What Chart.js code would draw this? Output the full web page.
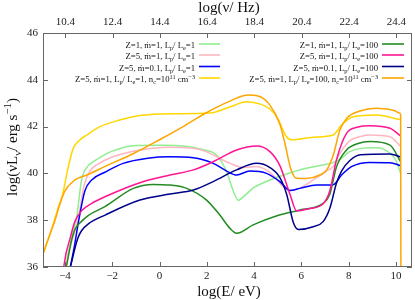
<!DOCTYPE html>
<html>
<head>
<meta charset="utf-8">
<script src="https://cdn.jsdelivr.net/npm/chart.js@4.4.1/dist/chart.umd.min.js"></script>
<style>
  html, body { margin: 0; padding: 0; background: #fff; }
</style>
</head>
<body>
<canvas id="sed" width="415" height="300"></canvas>
<script>
// log(E/eV) and log(nu L_nu), one pair of arrays per model
const eLG = [-4.05, -3.8, -3.5, -3.3, -3.08, -2.8, -2.4, -2.0, -1.11, 0.0, 1.2, 1.9, 2.41, 2.84, 3.1, 3.33, 3.6, 4.0, 4.67, 5.5, 5.94, 6.7, 7.3, 7.63, 8.05, 8.6, 9.2, 9.75, 10.0, 10.2];
const lLG = [35.6, 36.9, 38.15, 39.72, 40.25, 40.5, 40.75, 40.95, 41.18, 41.2, 41.15, 41.0, 40.79, 40.07, 39.3, 38.85, 39.05, 39.4, 39.72, 40.02, 40.15, 40.32, 40.45, 40.6, 40.93, 41.08, 41.1, 40.86, 40.55, 40.0];

const eLP = [-4.05, -3.8, -3.45, -3.2, -2.95, -2.6, -2.0, -1.3, -0.5, 0.3, 1.42, 2.0, 2.41, 2.98, 3.54, 4.1, 4.8, 5.2, 5.52, 5.94, 6.5, 7.07, 7.35, 7.63, 8.1, 8.5, 8.9, 9.75, 10.2];
const lLP = [35.6, 36.8, 38.0, 39.45, 40.1, 40.4, 40.7, 40.9, 41.05, 41.12, 41.07, 40.92, 40.71, 40.43, 40.25, 40.29, 39.93, 39.45, 39.28, 39.38, 39.72, 40.1, 40.3, 40.86, 41.43, 41.58, 41.64, 41.57, 41.15];

const eB = [-3.85, -3.6, -3.44, -3.16, -2.87, -2.31, -1.54, -0.5, 0.44, 1.43, 2.27, 2.84, 3.26, 3.82, 4.53, 5.09, 5.52, 5.94, 6.64, 7.35, 7.7, 8.12, 8.9, 9.75, 10.2];
const lB = [35.6, 36.9, 37.87, 39.25, 39.72, 40.05, 40.43, 40.65, 40.71, 40.67, 40.43, 40.1, 39.93, 40.1, 40.0, 39.65, 39.27, 39.36, 39.5, 39.52, 39.93, 40.29, 40.47, 40.46, 40.33];

const eY = [-4.95, -4.55, -4.3, -4.1, -3.9, -3.65, -3.37, -3.08, -2.52, -1.68, -0.83, 0.44, 2.13, 3.0, 3.68, 4.3, 4.67, 5.0, 5.35, 5.59, 6.5, 7.34, 7.7, 8.19, 9.18, 10.17];
const lY = [36.5, 37.65, 38.5, 39.1, 40.1, 41.07, 41.43, 41.64, 42.0, 42.28, 42.47, 42.55, 42.58, 42.85, 43.06, 42.95, 42.75, 42.35, 41.6, 41.43, 41.55, 41.64, 42.07, 42.42, 42.5, 42.3];

const eG = [-4.0, -3.85, -3.72, -3.58, -3.3, -3.02, -2.31, -1.11, -0.27, 0.44, 1.15, 1.99, 2.55, 2.98, 3.26, 3.96, 5.0, 5.94, 6.92, 7.2, 7.49, 7.91, 8.4, 8.9, 9.75, 10.2];
const lG = [35.7, 36.5, 37.15, 37.6, 37.95, 38.2, 38.58, 39.36, 39.53, 39.5, 39.36, 38.86, 38.22, 37.65, 37.44, 37.8, 38.2, 38.44, 38.72, 39.1, 40.29, 41.0, 41.28, 41.36, 41.21, 40.5];

const eHP = [-4.1, -3.95, -3.79, -3.58, -3.3, -2.87, -2.31, -0.83, 0.44, 1.43, 2.27, 3.26, 4.1, 4.67, 5.09, 5.52, 5.8, 6.36, 6.92, 7.2, 7.49, 7.91, 8.4, 8.9, 9.75, 10.2];
const lHP = [35.7, 36.6, 37.2, 37.95, 38.4, 38.72, 39.0, 39.6, 39.93, 40.15, 40.5, 41.0, 41.17, 40.93, 40.33, 39.1, 38.4, 38.5, 38.7, 39.25, 40.6, 41.71, 41.98, 42.04, 41.93, 41.6];

const eN = [-3.85, -3.7, -3.58, -3.45, -3.3, -3.0, -2.3, -0.83, 0.44, 1.43, 2.27, 3.26, 4.1, 4.67, 5.09, 5.38, 5.66, 5.87, 6.5, 6.92, 7.2, 7.49, 7.7, 8.05, 8.5, 9.75, 10.2];
const lN = [35.7, 36.3, 36.8, 37.25, 37.55, 37.85, 38.22, 38.86, 39.12, 39.29, 39.65, 40.15, 40.43, 40.25, 39.82, 39.1, 37.9, 37.6, 37.72, 37.94, 38.5, 39.6, 40.1, 40.55, 40.8, 40.83, 40.7];

const eO = [-4.95, -4.55, -4.42, -4.21, -4.0, -3.58, -3.08, -2.3, -1.1, 0.02, 1.0, 1.9, 3.0, 3.75, 4.2, 4.67, 5.09, 5.3, 5.55, 5.8, 6.2, 6.78, 7.07, 7.35, 7.63, 7.91, 8.48, 9.18, 9.89, 10.17, 10.2, 10.21];
const lO = [36.5, 37.65, 38.0, 38.7, 39.25, 39.72, 39.93, 40.3, 40.85, 41.45, 42.0, 42.55, 43.1, 43.35, 43.3, 42.92, 42.1, 41.3, 40.2, 39.79, 39.78, 39.93, 40.15, 40.79, 41.85, 42.35, 42.67, 42.78, 42.7, 42.57, 42.45, 35];

// model parameters used for the legend
const zVals = [1, 5, 5, 5, 1, 5, 5, 5];
const mdotVals = ['1', '1', '0.1', '1', '1', '1', '0.1', '1'];
const ratioVals = ['1', '1', '1', '1', '100', '100', '100', '100'];
const denseVals = [false, false, false, true, false, false, false, true];

const bottomTicks = [-4, -2, 0, 2, 4, 6, 8, 10];
const topTicks = [10.4, 12.4, 14.4, 16.4, 18.4, 20.4, 22.4, 24.4];
const leftTicks = [36, 38, 40, 42, 44, 46];
const LOG_EV_HZ = 14.3837;

const energies = [eLG, eLP, eB, eY, eG, eHP, eN, eO];
const lums = [lLG, lLP, lB, lY, lG, lHP, lN, lO];
const colors = ['#90ee90', '#ffb6c1', '#0000ff', '#ffd700', '#228b22', '#ff1493', '#00008b', '#ffa500'];

const FONT = '"Liberation Serif", "Times New Roman", serif';
const X_MIN = -4.93, X_MAX = 10.68;

function drawRich(ctx, segs, x, y, size, align) {
    const small = size * 0.72;
    const fontFor = k => (k === 'n' ? size : small) + 'px ' + FONT;
    let w = 0;
    segs.forEach(([t, k]) => { ctx.font = fontFor(k); w += ctx.measureText(t).width; });
    let cx = align === 'right' ? x - w : align === 'center' ? x - w / 2 : x;
    ctx.textAlign = 'left';
    ctx.textBaseline = 'alphabetic';
    segs.forEach(([t, k]) => {
        ctx.font = fontFor(k);
        const dy = k === 'b' ? size * 0.25 : k === 'p' ? -size * 0.4 : 0;
        ctx.fillText(t, cx, y + dy);
        cx += ctx.measureText(t).width;
    });
}

function legendSegs(i) {
    const s = [['Z=' + zVals[i] + ', \u1e41=' + mdotVals[i] + ', L', 'n'], ['p', 'b'], ['/ L', 'n'], ['e', 'b'], ['=' + ratioVals[i], 'n']];
    if (denseVals[i]) {
        s.push([', n', 'n'], ['c', 'b'], ['=10', 'n'], ['11', 'p'], [' cm', 'n'], ['\u22123', 'p']);
    }
    return s;
}

const decor = {
    id: 'decor',
    afterDraw(chart) {
        const ctx = chart.ctx;
        const a = chart.chartArea;
        const sx = chart.scales.x, sx2 = chart.scales.x2, sy = chart.scales.y;
        ctx.save();
        // frame + inward ticks
        ctx.strokeStyle = '#666';
        ctx.lineWidth = 1;
        ctx.strokeRect(a.left + 0.5, a.top + 0.5, a.right - a.left - 1, a.bottom - a.top - 1);
        ctx.beginPath();
        bottomTicks.forEach(v => {
            const px = Math.round(sx.getPixelForValue(v)) + 0.5;
            ctx.moveTo(px, a.bottom); ctx.lineTo(px, a.bottom - 5);
        });
        topTicks.forEach(v => {
            const px = Math.round(sx2.getPixelForValue(v)) + 0.5;
            ctx.moveTo(px, a.top); ctx.lineTo(px, a.top + 5);
        });
        leftTicks.forEach(v => {
            const py = Math.round(sy.getPixelForValue(v)) + 0.5;
            ctx.moveTo(a.left, py); ctx.lineTo(a.left + 5, py);
            ctx.moveTo(a.right, py); ctx.lineTo(a.right - 5, py);
        });
        ctx.stroke();

        // axis titles
        ctx.fillStyle = '#111';
        drawRich(ctx, [['log(E/ eV)', 'n']], 229, 296, 15, 'center');
        drawRich(ctx, [['log(\u03bd/ Hz)', 'n']], 229, 12, 15, 'center');
        ctx.save();
        ctx.translate(12, 147);
        ctx.rotate(-Math.PI / 2);
        drawRich(ctx, [['log(\u03bdL', 'n'], ['\u03bd', 'b'], ['/ erg s', 'n'], ['\u22121', 'p'], [')', 'n']], 0, 5, 15, 'center');
        ctx.restore();

        // legend, two columns, text right-aligned before the line sample
        const rows = [45, 56, 67.5, 79];
        const cols = [{ tx: 195, l0: 199, l1: 220 }, { tx: 378, l0: 382, l1: 404 }];
        for (let i = 0; i < 8; i++) {
            const c = cols[Math.floor(i / 4)], yy = rows[i % 4];
            ctx.fillStyle = '#111';
            drawRich(ctx, legendSegs(i), c.tx, yy + 3, 8.7, 'right');
            ctx.strokeStyle = colors[i];
            ctx.lineWidth = 1.6;
            ctx.beginPath();
            ctx.moveTo(c.l0, yy - 1); ctx.lineTo(c.l1, yy - 1);
            ctx.stroke();
        }
        ctx.restore();
    }
};

new Chart(document.getElementById('sed'), {
    type: 'line',
    data: {
        datasets: energies.map((e, i) => ({
            label: 'model ' + (i + 1),
            data: e.map((x, k) => ({ x: x, y: lums[i][k] })),
            borderColor: colors[i],
            borderWidth: 1.5,
            pointRadius: 0,
            fill: false,
            cubicInterpolationMode: 'monotone',
            order: 8 - i
        }))
    },
    options: {
        responsive: false,
        animation: false,
        layout: { padding: { left: 0, right: 3, top: 0, bottom: 0 } },
        plugins: { legend: { display: false }, tooltip: { enabled: false } },
        scales: {
            x: {
                type: 'linear', position: 'bottom', min: X_MIN, max: X_MAX,
                grid: { display: false, drawTicks: false }, border: { display: false },
                afterBuildTicks: s => { s.ticks = bottomTicks.map(v => ({ value: v })); },
                afterFit: s => { s.height = 33; },
                ticks: {
                    padding: 3, color: '#222', font: { family: FONT, size: 11 }, maxRotation: 0,
                    callback: v => (v < 0 ? '\u2212' + Math.abs(v) : String(v))
                }
            },
            x2: {
                type: 'linear', position: 'top', min: X_MIN + LOG_EV_HZ, max: X_MAX + LOG_EV_HZ,
                grid: { display: false, drawTicks: false }, border: { display: false },
                afterBuildTicks: s => { s.ticks = topTicks.map(v => ({ value: v })); },
                afterFit: s => { s.height = 33; },
                ticks: {
                    padding: 4, color: '#222', font: { family: FONT, size: 11 }, maxRotation: 0,
                    callback: v => v.toFixed(1)
                }
            },
            y: {
                type: 'linear', min: 36, max: 46,
                grid: { display: false, drawTicks: false }, border: { display: false },
                afterBuildTicks: s => { s.ticks = leftTicks.map(v => ({ value: v })); },
                afterFit: s => { s.width = 43; },
                ticks: { padding: 5, color: '#222', font: { family: FONT, size: 11 } }
            }
        }
    },
    plugins: [decor]
});
</script>
</body>
</html>
